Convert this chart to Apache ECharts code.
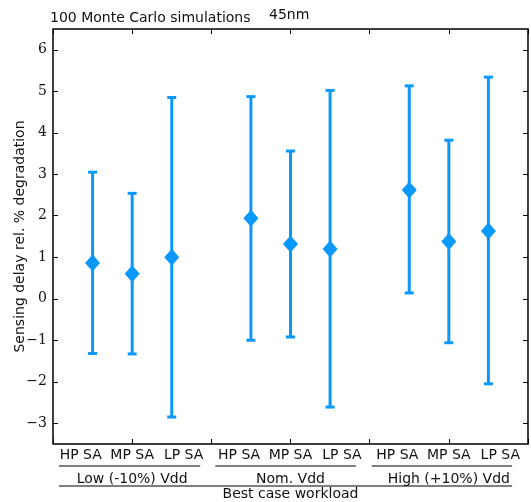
<!DOCTYPE html>
<html>
<head>
<meta charset="utf-8">
<script src="https://cdn.jsdelivr.net/npm/echarts@6/dist/echarts.min.js"></script>
<style>
  html, body { margin: 0; padding: 0; background: #fff; }
  #chart { width: 531px; height: 502px; }
</style>
</head>
<body>
<div id="chart"></div>
<script>
// 数据
var xPos = [1, 2, 3, 5, 6, 7, 9, 10, 11];
var saNames = ['HP SA', 'MP SA', 'LP SA', 'HP SA', 'MP SA', 'LP SA', 'HP SA', 'MP SA', 'LP SA'];
var means = [0.86, 0.60, 1.00, 1.94, 1.32, 1.20, 2.62, 1.38, 1.63];
var highs = [3.05, 2.54, 4.85, 4.87, 3.56, 5.02, 5.13, 3.82, 5.34];
var lows = [-1.32, -1.33, -2.85, -1.00, -0.92, -2.61, 0.14, -1.06, -2.05];
var groupNames = ['Low (-10%) Vdd', 'Nom. Vdd', 'High (+10%) Vdd'];
var groupCenters = [2, 6, 10];
var groupSpans = [[0.15, 3.72], [4.1, 7.65], [8.05, 11.6]];
var xTicks = [0, 2, 4, 6, 8, 10, 12];
var yTicks = [-3, -2, -1, 0, 1, 2, 3, 4, 5, 6];

var color = '#0a98fa';
var labelSpread = 1.3; // 标签在组内的间距（轴单位）
var chart = echarts.init(document.getElementById('chart'));

// 每个 SA 标签的位置：组中心 -/0/+ 间距
var saLabelPos = [];
var saLabel = {};
groupCenters.forEach(function (c) {
  [-labelSpread, 0, labelSpread].forEach(function (d) {
    var v = Math.round((c + d) * 100) / 100;
    saLabel[v] = saNames[saLabelPos.length];
    saLabelPos.push(v);
  });
});
var groupLabel = {};
groupCenters.forEach(function (x, i) { groupLabel[x] = groupNames[i]; });

var baseX = { type: 'value', min: 0, max: 12, splitLine: { show: false } };
var tickStyle = { inside: true, length: 5, lineStyle: { color: '#000', width: 1 } };
var txt = { fontFamily: 'DejaVu Sans', fontSize: 14, color: '#111' };

var option = {
  animation: false,
  title: [
    { text: '100 Monte Carlo simulations', left: 45, top: 6,
      textStyle: { fontFamily: 'DejaVu Sans', fontSize: 14, fontWeight: 'normal', color: '#111' } },
    { text: '45nm', left: 264, top: 3,
      textStyle: { fontFamily: 'DejaVu Sans', fontSize: 14, fontWeight: 'normal', color: '#111' } }
  ],
  grid: {
    left: 53, right: 3, top: 29, bottom: 58,
    outerBoundsMode: 'none',
    show: true, borderColor: '#000', borderWidth: 1.5
  },
  xAxis: [
    // 底部刻度
    Object.assign({}, baseX, {
      position: 'bottom',
      axisLine: { show: false, onZero: false },
      axisTick: Object.assign({ customValues: xTicks }, tickStyle),
      axisLabel: { show: false }
    }),
    // 顶部刻度
    Object.assign({}, baseX, {
      position: 'top',
      axisLine: { show: false, onZero: false },
      axisTick: Object.assign({ customValues: xTicks }, tickStyle),
      axisLabel: { show: false }
    }),
    // SA 标签
    Object.assign({}, baseX, {
      position: 'bottom',
      axisLine: { show: false, onZero: false }, axisTick: { show: false },
      axisLabel: Object.assign({
        margin: 4, customValues: saLabelPos,
        formatter: function (v) { return saLabel[Math.round(v * 100) / 100] || ''; }
      }, txt)
    }),
    // 电压分组标签
    Object.assign({}, baseX, {
      position: 'bottom', offset: 24,
      axisLine: { show: false, onZero: false }, axisTick: { show: false },
      axisLabel: Object.assign({
        margin: 4, customValues: groupCenters,
        formatter: function (v) { return groupLabel[v] || ''; }
      }, txt),
      name: 'Best case workload', nameLocation: 'middle', nameGap: 19,
      nameMoveOverlap: false,
      nameTextStyle: txt
    })
  ],
  yAxis: [
    {
      type: 'value', min: -3.5, max: 6.5, position: 'left',
      splitLine: { show: false },
      axisLine: { show: false, onZero: false },
      axisTick: Object.assign({ customValues: yTicks }, tickStyle),
      axisLabel: {
        margin: 6, customValues: yTicks,
        fontFamily: 'DejaVu Serif', fontSize: 14, color: '#111',
        formatter: function (v) {
          return v < 0 ? '\u2212' + Math.abs(v) : String(v);
        }
      },
      name: 'Sensing delay rel. % degradation', nameLocation: 'middle', nameGap: 26,
      nameMoveOverlap: false,
      nameTextStyle: txt
    },
    {
      type: 'value', min: -3.5, max: 6.5, position: 'right',
      splitLine: { show: false },
      axisLine: { show: false, onZero: false },
      axisTick: Object.assign({ customValues: yTicks }, tickStyle),
      axisLabel: { show: false }
    }
  ],
  series: [
    {
      type: 'custom',
      name: 'range',
      xAxisIndex: 0, yAxisIndex: 0,
      data: xPos.map(function (x, i) { return [x, lows[i], highs[i]]; }),
      renderItem: function (params, api) {
        var lo = api.coord([api.value(0), api.value(1)]);
        var hi = api.coord([api.value(0), api.value(2)]);
        var cap = 4.5;
        var st = { stroke: color, lineWidth: 3 };
        return {
          type: 'group',
          children: [
            { type: 'line', shape: { x1: lo[0], y1: lo[1], x2: hi[0], y2: hi[1] }, style: st },
            { type: 'line', shape: { x1: lo[0] - cap, y1: lo[1], x2: lo[0] + cap, y2: lo[1] }, style: st },
            { type: 'line', shape: { x1: hi[0] - cap, y1: hi[1], x2: hi[0] + cap, y2: hi[1] }, style: st }
          ]
        };
      },
      z: 2
    },
    {
      type: 'scatter',
      name: 'mean',
      xAxisIndex: 0, yAxisIndex: 0,
      symbol: 'diamond',
      symbolSize: [15, 17],
      itemStyle: { color: color, opacity: 1 },
      data: xPos.map(function (x, i) { return [x, means[i]]; }),
      z: 3
    }
  ]
};

chart.setOption(option);

// 分组下划线
var lineStyle = { stroke: '#000', lineWidth: 1.2 };
var elements = [];
groupSpans.forEach(function (s) {
  elements.push({
    type: 'line',
    shape: {
      x1: chart.convertToPixel({ xAxisIndex: 0 }, s[0]), y1: 466,
      x2: chart.convertToPixel({ xAxisIndex: 0 }, s[1]), y2: 466
    },
    style: lineStyle
  });
});
elements.push({
  type: 'line',
  shape: {
    x1: chart.convertToPixel({ xAxisIndex: 0 }, groupSpans[0][0]), y1: 486,
    x2: chart.convertToPixel({ xAxisIndex: 0 }, groupSpans[2][1]), y2: 486
  },
  style: lineStyle
});
chart.setOption({ graphic: elements });
</script>
</body>
</html>
